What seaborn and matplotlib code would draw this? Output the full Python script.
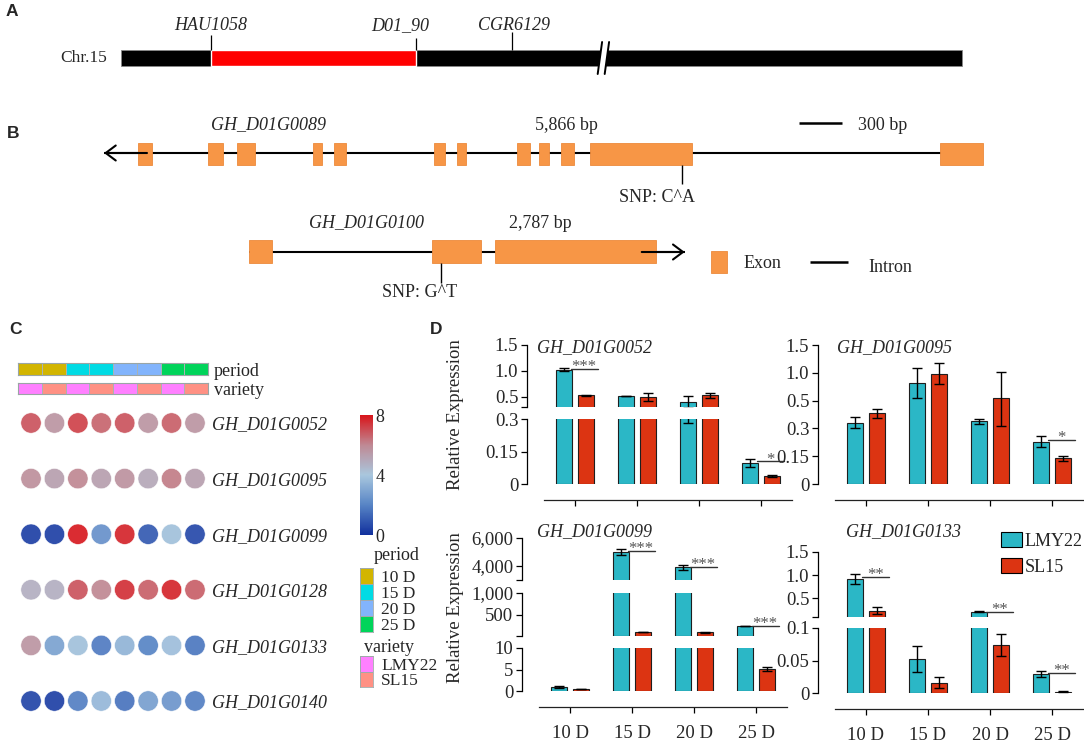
import numpy as np
import pandas as pd
import matplotlib
matplotlib.use('Agg')
import matplotlib.pyplot as plt
import seaborn as sns
from matplotlib.colors import LinearSegmentedColormap, ListedColormap, Normalize
from matplotlib.cm import ScalarMappable
from matplotlib.patches import Patch, Polygon

sns.set_theme(style='white')
plt.rcParams['font.family'] = ['Liberation Serif', 'DejaVu Serif']

W, H = 1084, 742
fig = plt.figure(figsize=(W / 100, H / 100), dpi=100, facecolor='white')


def fr(x0, y0, x1, y1):
    return [x0 / W, 1 - y1 / H, (x1 - x0) / W, (y1 - y0) / H]

# ============================ DATA ============================
# Panel A: chromosome markers (relative position along Chr.15, 0-100)
chr_name = 'Chr.15'
markers = ['HAU1058', 'D01_90', 'CGR6129']
marker_pos = [10.7, 35.1, 46.5]
chr_break = 57.3

# Panel B: gene structures (bp)
gene1_name = 'GH_D01G0089'
gene1_size = '5,866 bp'
gene1_exon_start = [240, 725, 930, 1460, 1605, 2300, 2465, 2880, 3035, 3190, 3390, 5830]
gene1_exon_end = [335, 830, 1055, 1520, 1690, 2380, 2525, 2970, 3105, 3280, 4100, 6135]
gene1_span = 6135
gene1_snp = 4033
gene1_snp_label = 'SNP: C^A'

gene2_name = 'GH_D01G0100'
gene2_size = '2,787 bp'
gene2_exon_start = [0, 1275, 1715]
gene2_exon_end = [160, 1620, 2840]
gene2_span = 3040
gene2_snp = 1340
gene2_snp_label = 'SNP: G^T'
scale_bp = 300

# Panel C: expression heatmap
genes_c = ['GH_D01G0052', 'GH_D01G0095', 'GH_D01G0099',
           'GH_D01G0128', 'GH_D01G0133', 'GH_D01G0140']
sample_period = ['10 D', '10 D', '15 D', '15 D', '20 D', '20 D', '25 D', '25 D']
sample_variety = ['LMY22', 'SL15', 'LMY22', 'SL15', 'LMY22', 'SL15', 'LMY22', 'SL15']
expr_0052 = [6.9, 5.6, 7.2, 6.6, 6.9, 5.6, 6.7, 5.6]
expr_0095 = [5.8, 5.3, 6.0, 5.3, 5.7, 5.0, 6.2, 5.3]
expr_0099 = [0.4, 0.4, 7.9, 2.4, 7.7, 1.0, 3.8, 0.6]
expr_0128 = [4.8, 4.8, 6.9, 6.0, 7.5, 6.7, 7.7, 6.7]
expr_0133 = [5.6, 2.9, 3.8, 1.8, 3.4, 2.0, 3.7, 1.7]
expr_0140 = [0.5, 0.4, 1.9, 3.5, 1.6, 2.8, 2.5, 1.9]
cbar_ticks = [0, 4, 8]

# Panel D: relative expression
periods = ['10 D', '15 D', '20 D', '25 D']
varieties = ['LMY22', 'SL15']

d0052_lmy = [1.02, 0.51, 0.40, 0.097]
d0052_lmy_err = [0.03, 0.005, 0.12, 0.018]
d0052_sl = [0.53, 0.50, 0.53, 0.037]
d0052_sl_err = [0.01, 0.08, 0.05, 0.004]
d0052_sig = ['***', '', '', '*']

d0095_lmy = [0.34, 0.82, 0.35, 0.228]
d0095_lmy_err_lo = [0.04, 0.28, 0.015, 0.026]
d0095_lmy_err_hi = [0.045, 0.27, 0.015, 0.03]
d0095_sl = [0.41, 0.98, 0.54, 0.14]
d0095_sl_err_lo = [0.035, 0.19, 0.22, 0.015]
d0095_sl_err_hi = [0.03, 0.19, 0.48, 0.012]
d0095_sig = ['', '', '', '*']

d0099_lmy = [0.9, 5000, 3900, 240]
d0099_lmy_err = [0.2, 200, 150, 5]
d0099_sl = [0.45, 100, 95, 5.1]
d0099_sl_err = [0.1, 5, 8, 0.5]
d0099_sig = ['', '***', '***', '***']

d0133_lmy = [0.92, 0.052, 0.21, 0.029]
d0133_lmy_err = [0.1, 0.02, 0.01, 0.005]
d0133_sl = [0.24, 0.016, 0.074, 0.002]
d0133_sl_err = [0.07, 0.009, 0.017, 0.0005]
d0133_sig = ['**', '', '**', '**']

# ============================ STYLE ============================
C_LMY = '#2BB7C6'
C_SL = '#DC3412'
EXON = '#F79646'
period_colors = ['#D2B500', '#00DBE4', '#82B4FC', '#00D45A']
variety_colors = ['#FF80FF', '#FF9184']
expr_cmap = LinearSegmentedColormap.from_list(
    'expr', [(0, '#11309d'), (0.25, '#5784c5'), (0.5, '#a9c7de'),
             (0.75, '#bf8994'), (1, '#d8141a')])

# overlay axes for free text
ov = fig.add_axes([0, 0, 1, 1], zorder=-5)
ov.set_xlim(0, W)
ov.set_ylim(H, 0)
ov.axis('off')

for letter, (lx, ly) in zip('ABCD', [(12, 11), (13, 133), (15, 329), (436, 330)]):
    ov.text(lx, ly, letter, fontsize=12.5, fontweight='bold',
            family=['Liberation Sans', 'DejaVu Sans'], ha='center', va='center')

# ============================ PANEL A ============================
U = 100 / 841  # units per pixel
ax_a = fig.add_axes(fr(0, 0, W, 110))
ax_a.set_xlim(-121 * U, (W - 121) * U)
ax_a.set_ylim(110, 0)
ax_a.axis('off')
ax_a.barh(58, 100, left=0, height=16, color='black', edgecolor='#888888', lw=0.6)
ax_a.barh(58, marker_pos[1] - marker_pos[0], left=marker_pos[0], height=16, color='#FF0000')
tops = [35, 38, 32]
dxs = [0, -16 * U, 2 * U]
for m, p, t, dx in zip(markers, marker_pos, tops, dxs):
    ax_a.vlines(p, t, 50, color='black', lw=0.9)
    ax_a.text(p + dx, 26, m, style='italic', fontsize=13, ha='center', va='center')
ax_a.text(-14 * U, 58, chr_name, fontsize=12.5, ha='right', va='center')
bl = chr_break - 3 * U
br = chr_break + 4 * U
ax_a.add_patch(Polygon([(bl + 2 * U, 44), (br + 2 * U, 44), (br - 2 * U, 72), (bl - 2 * U, 72)],
                       closed=True, facecolor='white', edgecolor='none', zorder=3))
for xx in (bl, br):
    ax_a.plot([xx + 2.2 * U, xx - 2.2 * U], [42, 74], color='black', lw=1.4, zorder=4)

# ============================ PANEL B ============================
BPX = 300 / 43  # bp per pixel
ax_b = fig.add_axes(fr(0, 110, W, 310))
ax_b.set_xlim(-104 * BPX, (W - 104) * BPX)
ax_b.set_ylim(310, 110)
ax_b.axis('off')


def bx(px):
    return (px - 104) * BPX

# gene 1
ax_b.hlines(153, 0, gene1_span, color='black', lw=1.5, zorder=1)
ax_b.annotate('', xy=(0, 153), xytext=(300, 153),
              arrowprops=dict(arrowstyle='->,head_length=0.6,head_width=0.45', lw=1.5,
                              color='black', shrinkA=0, shrinkB=0))
w1 = np.array(gene1_exon_end) - np.array(gene1_exon_start)
ax_b.bar(gene1_exon_start, 22, width=w1, bottom=143, align='edge', color=EXON,
         edgecolor='#EC8A3C', lw=0.6, zorder=2)
ax_b.vlines(gene1_snp, 165, 184, color='black', lw=1)
ax_b.text(gene1_snp - 25 * BPX, 198, gene1_snp_label, fontsize=13, ha='center', va='center')
ax_b.text(bx(268), 125, gene1_name, style='italic', fontsize=13, ha='center', va='center')
ax_b.text(bx(566), 125, gene1_size, fontsize=13, ha='center', va='center')
ax_b.hlines(123, bx(799), bx(799) + scale_bp, color='black', lw=1.8)
ax_b.text(bx(858), 125, f'{scale_bp} bp', fontsize=13, ha='left', va='center')

# gene 2
off2 = bx(249)
ax_b.hlines(252, off2, off2 + gene2_span, color='black', lw=1.5, zorder=1)
ax_b.annotate('', xy=(off2 + gene2_span, 252), xytext=(off2 + gene2_span - 300, 252),
              arrowprops=dict(arrowstyle='->,head_length=0.6,head_width=0.45', lw=1.5,
                              color='black', shrinkA=0, shrinkB=0))
w2 = np.array(gene2_exon_end) - np.array(gene2_exon_start)
ax_b.bar(off2 + np.array(gene2_exon_start), 23, width=w2, bottom=240, align='edge',
         color=EXON, edgecolor='#EC8A3C', lw=0.6, zorder=2)
ax_b.vlines(off2 + gene2_snp, 263, 283, color='black', lw=1)
ax_b.text(off2 + gene2_snp - 22 * BPX, 292, gene2_snp_label, fontsize=13, ha='center', va='center')
ax_b.text(bx(367), 223, gene2_name, style='italic', fontsize=13, ha='center', va='center')
ax_b.text(bx(540), 223, gene2_size, fontsize=13, ha='center', va='center')
# legend
ax_b.bar(bx(711), 22, width=16 * BPX, bottom=251, align='edge', color=EXON,
         edgecolor='#EC8A3C', lw=0.6)
ax_b.text(bx(744), 263, 'Exon', fontsize=13, ha='left', va='center')
ax_b.hlines(262, bx(810), bx(848), color='black', lw=1.8)
ax_b.text(bx(868), 267, 'Intron', fontsize=13, ha='left', va='center')

# ============================ PANEL C ============================
expr = np.array([expr_0052, expr_0095, expr_0099, expr_0128, expr_0133, expr_0140])
rows, cols = np.meshgrid(np.arange(expr.shape[0]), np.arange(expr.shape[1]), indexing='ij')
df_c = pd.DataFrame({'col': cols.ravel(), 'row': rows.ravel(), 'value': expr.ravel()})
ax_c = fig.add_axes(fr(19.3, 395.2, 206.7, 728.8))
sns.scatterplot(data=df_c, x='col', y='row', hue='value', palette=expr_cmap, hue_norm=(0, 8),
                s=215, linewidth=0.4, edgecolor='#ffffff', alpha=0.92, legend=False, ax=ax_c)
ax_c.set_xlim(-0.5, 7.5)
ax_c.set_ylim(5.5, -0.5)
ax_c.set_xticks([])
ax_c.set_yticks(range(len(genes_c)))
ax_c.set_yticklabels(genes_c, style='italic', fontsize=13)
ax_c.yaxis.tick_right()
ax_c.tick_params(axis='y', length=0, pad=4, right=False, labelright=True, labelleft=False)
ax_c.set_xlabel('')
ax_c.set_ylabel('')
for s in ax_c.spines.values():
    s.set_visible(False)


def annot_bar(rect, codes, colors, label):
    a = fig.add_axes(rect)
    sns.heatmap(np.array([codes]), cmap=ListedColormap(colors), vmin=-0.5,
                vmax=len(colors) - 0.5, cbar=False, linewidths=0.6, linecolor='#a9b3b3',
                xticklabels=False, yticklabels=[label], ax=a)
    a.yaxis.tick_right()
    a.tick_params(axis='y', length=0, pad=4, labelsize=13, labelrotation=0,
                  labelright=True, labelleft=False)
    for s in a.spines.values():
        s.set_visible(True)
        s.set_color('#9aa5a5')
        s.set_linewidth(0.8)
    return a

annot_bar(fr(18, 363, 208, 375), [periods.index(p) for p in sample_period], period_colors, 'period')
annot_bar(fr(18, 383, 208, 394), [varieties.index(v) for v in sample_variety], variety_colors, 'variety')

cax = fig.add_axes(fr(360, 415, 373, 535))
cb = fig.colorbar(ScalarMappable(Normalize(0, 8), expr_cmap), cax=cax, ticks=cbar_ticks)
cb.outline.set_visible(False)
cax.tick_params(length=0, labelsize=13, pad=2)


def legend_block(rect, colors, labels, title, title_xy):
    a = fig.add_axes(rect)
    sns.heatmap(np.arange(len(colors)).reshape(-1, 1), cmap=ListedColormap(colors),
                vmin=-0.5, vmax=len(colors) - 0.5, cbar=False, linewidths=0.6,
                linecolor='#a0aaaa', xticklabels=False, yticklabels=labels, ax=a)
    a.yaxis.tick_right()
    a.tick_params(axis='y', length=0, pad=6, labelsize=12.5, labelrotation=0,
                  labelright=True, labelleft=False)
    for s in a.spines.values():
        s.set_visible(True)
        s.set_color('#a0aaaa')
        s.set_linewidth(0.6)
    ov.text(title_xy[0], title_xy[1], title, fontsize=13, ha='center', va='center')

legend_block(fr(360, 568, 373, 632), period_colors, periods, 'period', (397, 555))
legend_block(fr(360, 656, 373, 687), variety_colors, varieties, 'variety', (389, 648))

# ============================ PANEL D ============================


def piecewise(vals):
    vals = np.asarray(vals, float)
    idx = np.arange(len(vals), dtype=float)

    def fwd(v):
        v = np.asarray(v, float)
        out = np.interp(v, vals, idx)
        out = np.where(v < vals[0], (v - vals[0]) / (vals[1] - vals[0]), out)
        out = np.where(v > vals[-1], idx[-1] + (v - vals[-1]) / (vals[-1] - vals[-2]), out)
        return out

    def inv(t):
        t = np.asarray(t, float)
        out = np.interp(t, idx, vals)
        out = np.where(t < 0, vals[0] + t * (vals[1] - vals[0]), out)
        out = np.where(t > idx[-1], vals[-1] + (t - idx[-1]) * (vals[-1] - vals[-2]), out)
        return out
    return fwd, inv


def as_lohi(err):
    e = np.asarray(err, float)
    if e.ndim == 1:
        return e, e
    return e[0], e[1]


def expression_panel(title, lmy, lmy_err, sl, sl_err, sig, xpx, segments, xlabels,
                     title_xy, func_ticks=None):
    df = pd.DataFrame({'period': periods * 2,
                       'variety': ['LMY22'] * 4 + ['SL15'] * 4,
                       'value': list(lmy) + list(sl)})
    axes = []
    nseg = len(segments)
    for k, (lo, hi, ytop, ybot, ticks, labels) in enumerate(segments):
        ax = fig.add_axes(fr(xpx[0], ytop, xpx[1], ybot))
        ax.set_facecolor('none')
        if func_ticks is not None:
            f, finv = piecewise(func_ticks)
            ax.set_yscale('function', functions=(f, finv))
        sns.barplot(data=df, x='period', y='value', hue='variety', order=periods,
                    hue_order=varieties, palette=[C_LMY, C_SL], width=0.74, gap=0.3,
                    saturation=1, errorbar=None, legend=False, edgecolor='#1e1e1e',
                    linewidth=0.8, ax=ax)
        for cont, vals, errs in zip(ax.containers, [lmy, sl], [lmy_err, sl_err]):
            elo, ehi = as_lohi(errs)
            for b, v, el, eh in zip(cont, vals, elo, ehi):
                if v <= lo:
                    b.set_visible(False)
                if v + eh <= lo or v - el >= hi:
                    continue
                xc = b.get_x() + b.get_width() / 2
                ax.errorbar([xc], [v], yerr=[[el], [eh]], fmt='none', ecolor='black',
                            elinewidth=1, capsize=3.5, capthick=1, zorder=5)
        ax.set_xlim(-0.5, 3.5)
        ax.set_ylim(lo, hi)
        ax.set_xlabel('')
        ax.set_ylabel('')
        ax.set_yticks(ticks)
        ax.set_yticklabels(labels)
        ax.yaxis.set_minor_locator(matplotlib.ticker.NullLocator())
        ax.tick_params(axis='y', left=True, length=4, width=0.9, color='black',
                       labelsize=13.5, pad=2, direction='out')
        for side in ('top', 'right'):
            ax.spines[side].set_visible(False)
        ax.spines['left'].set_position(('outward', 12.5))
        ax.spines['left'].set_color('black')
        ax.spines['left'].set_linewidth(0.9)
        if k == nseg - 1:
            ax.spines['bottom'].set_position(('outward', 11.5))
            ax.spines['bottom'].set_color('#222222')
            ax.spines['bottom'].set_linewidth(0.9)
            ax.set_xticks(range(4))
            ax.set_xticklabels(xlabels)
            ax.tick_params(axis='x', bottom=True, length=4, width=0.9, color='black',
                           labelsize=13.5, pad=9, direction='out')
        else:
            ax.spines['bottom'].set_visible(False)
            ax.set_xticks([])
        axes.append((ax, lo, hi))
    # significance
    ref_ax = axes[0][0]
    lmy_bars = list(ref_ax.containers[0])
    sl_bars = list(ref_ax.containers[1])
    lmy_lo, lmy_hi = as_lohi(lmy_err)
    for i, s in enumerate(sig):
        if not s:
            continue
        yv = lmy[i] + 0.4 * lmy_hi[i]
        for ax, lo, hi in axes:
            if lo <= yv <= hi:
                x0 = lmy_bars[i].get_x() + lmy_bars[i].get_width() * 0.95
                x1 = sl_bars[i].get_x() + sl_bars[i].get_width() + 0.05
                ax.plot([x0, x1], [yv, yv], color='#333333', lw=1.0, zorder=6, clip_on=False)
                ax.annotate(s, xy=((x0 + x1) / 2, yv), xytext=(0, -4.5),
                            textcoords='offset points', ha='center', va='bottom',
                            fontsize=12, color='#555555', zorder=6)
                break
    ov.text(title_xy[0], title_xy[1], title, style='italic', fontsize=13,
            ha='left', va='center')

blank = ['', '', '', '']
expression_panel('GH_D01G0052', d0052_lmy, d0052_lmy_err, d0052_sl, d0052_sl_err, d0052_sig,
                 (544, 792),
                 [(0.3, 1.5, 345, 407, [0.3, 0.5, 1.0, 1.5], ['', '0.5', '1.0', '1.5']),
                  (0, 0.3, 419, 484, [0, 0.15, 0.3], ['0', '0.15', '0.3'])],
                 blank, (537, 348))
expression_panel('GH_D01G0095', d0095_lmy, [d0095_lmy_err_lo, d0095_lmy_err_hi],
                 d0095_sl, [d0095_sl_err_lo, d0095_sl_err_hi], d0095_sig,
                 (835, 1083),
                 [(0, 1.5, 345, 484, [0, 0.15, 0.3, 0.5, 1.0, 1.5],
                   ['0', '0.15', '0.3', '0.5', '1.0', '1.5'])],
                 blank, (837, 348), func_ticks=[0, 0.15, 0.3, 0.5, 1.0, 1.5])
expression_panel('GH_D01G0099', d0099_lmy, d0099_lmy_err, d0099_sl, d0099_sl_err, d0099_sig,
                 (539, 787),
                 [(3000, 6000, 538, 580, [3000, 4000, 6000], ['', '4,000', '6,000']),
                  (10, 1000, 593, 636, [10, 500, 1000], ['', '500', '1,000']),
                  (0, 10, 648, 691, [0, 5, 10], ['0', '5', '10'])],
                 periods, (537, 532))
expression_panel('GH_D01G0133', d0133_lmy, d0133_lmy_err, d0133_sl, d0133_sl_err, d0133_sig,
                 (835, 1083),
                 [(0.1, 1.5, 552, 617, [0.1, 0.5, 1.0, 1.5], ['', '0.5', '1.0', '1.5']),
                  (0, 0.1, 628, 693, [0, 0.05, 0.1], ['0', '0.05', '0.1'])],
                 periods, (846, 532))

ov.text(455, 415, 'Relative Expression', rotation=90, fontsize=13.5, ha='center', va='center')
ov.text(455, 608, 'Relative Expression', rotation=90, fontsize=13.5, ha='center', va='center')

fig.legend(handles=[Patch(facecolor=C_LMY, edgecolor='black', lw=0.8, label='LMY22'),
                    Patch(facecolor=C_SL, edgecolor='black', lw=0.8, label='SL15')],
           loc='upper left', bbox_to_anchor=(1001 / W, 1 - 532 / H), frameon=False,
           fontsize=13, handlelength=1.15, handleheight=0.9, handletextpad=0.15,
           labelspacing=0.45, borderpad=0, borderaxespad=0)

fig.savefig('out.png', dpi=100, facecolor='white')
